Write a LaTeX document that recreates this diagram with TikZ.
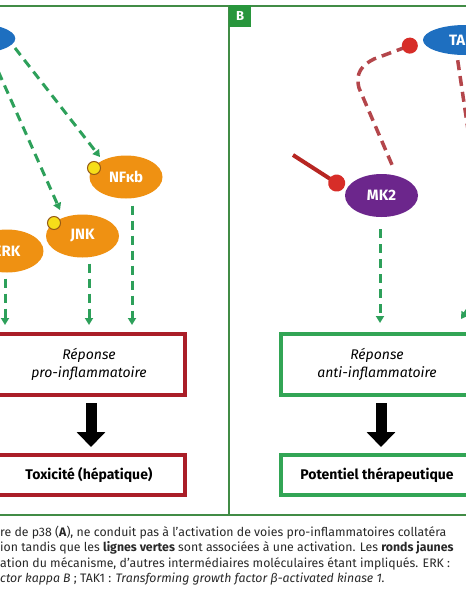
\documentclass[tikz,border=0pt]{standalone}
\usepackage{fontspec}
\setmainfont{Fira Sans}
\usetikzlibrary{shapes.geometric,arrows.meta,calc}
\definecolor{cblue}{RGB}{30,111,192}
\definecolor{corange}{RGB}{239,145,18}
\definecolor{cpurple}{RGB}{108,38,140}
\definecolor{cyellow}{RGB}{246,222,25}
\definecolor{cyelline}{RGB}{150,90,20}
\definecolor{gdashc}{RGB}{45,160,90}
\definecolor{framec}{RGB}{65,140,70}
\definecolor{blabelc}{RGB}{40,150,60}
\definecolor{redboxc}{RGB}{170,30,40}
\definecolor{greenboxc}{RGB}{50,165,85}
\definecolor{rdashc}{RGB}{180,70,75}
\definecolor{rdotc}{RGB}{215,45,40}
\definecolor{captc}{RGB}{40,40,40}
\begin{document}
\begin{tikzpicture}[x=1pt,y=-1pt,
  framel/.style={draw=framec,line width=2pt},
  kinase/.style={ellipse,inner sep=0pt,minimum width=73pt,minimum height=43pt,text=white,font=\fontsize{15}{17}\selectfont\bfseries},
  orangenode/.style={kinase,fill=corange},
  dotnode/.style={circle,inner sep=0pt,minimum size=13pt,fill=cyellow,draw=cyelline,line width=1pt},
  gdash/.style={draw=gdashc,line width=3pt,dash pattern=on 9pt off 6pt,-{Triangle[width=8pt,length=7pt]}},
  rdash/.style={draw=rdashc,line width=3.5pt,dash pattern=on 10pt off 6pt},
  rinhib/.style={draw=rdotc!85!black,line width=4pt,-{Circle[length=17pt,width=17pt,color=rdotc,fill=rdotc]}},
  bigarrow/.style={draw=black,line width=11pt,-{Triangle[width=28pt,length=15pt]}},
  boxbase/.style={rectangle,inner sep=0pt,minimum width=192pt,line width=4pt,fill=white,align=center},
  redbox/.style={boxbase,draw=redboxc},
  greenbox/.style={boxbase,draw=greenboxc},
  resptext/.style={font=\fontsize{14}{18.5}\selectfont\itshape},
  outtext/.style={font=\fontsize{14}{16}\selectfont\bfseries},
  capt/.style={anchor=base west,inner sep=0pt,text=captc,font=\fontsize{12.3}{15.5}\selectfont}
]
\useasboundingbox (0,0) rectangle (466,600);
\clip (0,0) rectangle (466,600);
\fill[white] (0,0) rectangle (466,600);

% frame
\draw[framel] (0,6) -- (466,6);
\draw[framel] (0,515) -- (466,515);
\draw[framel] (229,6) -- (229,515);
\node[fill=blabelc,text=white,font=\fontsize{13}{14}\selectfont\bfseries,minimum size=22pt,inner sep=0pt,anchor=north west] (blabel) at (229,5) {B};

% ---- panel A ----
\node[ellipse,inner sep=0pt,minimum width=84pt,minimum height=30pt,fill=cblue] (p38) at (-26.7,38.5) {};
\node[orangenode] (nfkb) at (126,177) {NFκb};
\node[orangenode] (jnk) at (82.5,236) {JNK};
\node[orangenode] (erk) at (7,251) {ERK};
\node[dotnode] (dnf) at (94,168) {};
\node[dotnode] (djnk) at (54,223) {};

\node[redbox,minimum height=61pt,resptext] (resp1) at (89,364.5) {Réponse\\pro-inflammatoire};
\node[redbox,minimum height=40pt,outtext] (tox) at (89,475) {Toxicité (hépatique)};

\draw[gdash] ([shift={(41.7,9.5)}]p38.center) -- ([shift={(-26,-20)}]nfkb.center);
\draw[gdash] ([shift={(19,19.5)}]p38.center) -- ([shift={(-22.5,-26)}]jnk.center);

\coordinate (erkout) at ([shift={(-2,0)}]erk.south);
\coordinate (jnkout) at ([shift={(6.5,0)}]jnk.south);
\coordinate (nfout) at ([shift={(6,0)}]nfkb.south);
\draw[gdash,shorten <=6pt,shorten >=7pt] (erkout) -- (erkout |- resp1.north);
\draw[gdash,shorten <=6pt,shorten >=7pt] (jnkout) -- (jnkout |- resp1.north);
\draw[gdash,shorten <=7pt,shorten >=7pt] (nfout) -- (nfout |- resp1.north);

\draw[bigarrow,shorten <=6pt,shorten >=6pt] ([shift={(2,0)}]resp1.south) -- ([shift={(2,0)}]tox.north);

% ---- panel B ----
\node[kinase,minimum width=84pt,minimum height=30pt,fill=cblue] (tak) at (465,40) {TAK1};
\node[kinase,fill=cpurple] (mk2) at (381.5,195.5) {MK2};

\node[greenbox,minimum height=61pt,resptext] (resp2) at (377,364.5) {Réponse\\anti-inflammatoire};
\node[greenbox,minimum height=40pt,outtext] (pot) at (377,475) {Potentiel thérapeutique};

\draw[rdash,-{Circle[length=16pt,width=16pt,color=rdotc,fill=rdotc]},shorten >=8pt]
  ([shift={(10.5,-9)}]mk2.north) -- (359,88) .. controls (355,73) and (362,65) .. (374,59) -- ([shift={(2,0)}]tak.west);
\coordinate (takout) at (471,150);
\draw[rdash] ([shift={(-7.3,5)}]tak.south) -- (takout);

\coordinate (inhsrc) at (293,155);
\draw[rinhib,shorten >=3pt] (inhsrc) -- (mk2.170);

\coordinate (mkout) at ([shift={(-1.5,0)}]mk2.south);
\draw[gdash,shorten <=12pt,shorten >=9pt] (mkout) -- (mkout |- resp2.north);
\coordinate (rsrc) at (484,285);
\draw[gdash] (rsrc) -- ([shift={(-14,-13)}]resp2.north east);

\draw[bigarrow,shorten <=6pt,shorten >=6pt] ([shift={(4,0)}]resp2.south) -- ([shift={(4,0)}]pot.north);

% ---- caption ----
\node[capt] (c1) at (0,536) {re de p38 (\textbf{A}), ne conduit pas à l’activation de voies pro-inflammatoires collatéra};
\node[capt] (c2) at (0,551.5) {ion tandis que les \textbf{lignes vertes} sont associées à une activation. Les \textbf{ronds jaunes}};
\node[capt] (c3) at (0,567) {ation du mécanisme, d’autres intermédiaires moléculaires étant impliqués. ERK :};
\node[capt] (c4) at (0,582.5) {\textit{ctor kappa B} ; TAK1 : \textit{Transforming growth factor β-activated kinase 1.}};
\end{tikzpicture}
\end{document}
